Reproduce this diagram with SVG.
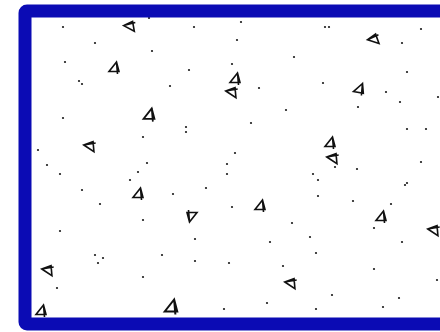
<svg xmlns="http://www.w3.org/2000/svg" xmlns:xlink="http://www.w3.org/1999/xlink" width="440" height="332" viewBox="0 0 440 332">
<style>
.d{fill:#1a1a1a}
.t{fill:none;stroke:#111;stroke-width:1.6;stroke-linejoin:miter}
</style>
<defs>
<path id="tri" class="t" d="M2.5,-6 L-5,3.5 L5,3.5 Z M2.5,-6 L3.5,6"/>
</defs>
<rect x="0" y="0" width="440" height="332" fill="#ffffff"/>
<g id="hatch">
<use xlink:href="#tri" transform="translate(130,27) rotate(-100)"/>
<use xlink:href="#tri" transform="translate(114,68)"/>
<use xlink:href="#tri" transform="translate(149,115) scale(1.1)"/>
<use xlink:href="#tri" transform="translate(90,147) rotate(-95)"/>
<use xlink:href="#tri" transform="translate(235,79)"/>
<use xlink:href="#tri" transform="translate(232,93) rotate(-95)"/>
<use xlink:href="#tri" transform="translate(374,40) rotate(-110)"/>
<use xlink:href="#tri" transform="translate(359,89) rotate(10)"/>
<use xlink:href="#tri" transform="translate(330,143)"/>
<use xlink:href="#tri" transform="translate(333,159) rotate(-95)"/>
<use xlink:href="#tri" transform="translate(138,194)"/>
<use xlink:href="#tri" transform="translate(192,216) rotate(180)"/>
<use xlink:href="#tri" transform="translate(260,206)"/>
<use xlink:href="#tri" transform="translate(381,217)"/>
<use xlink:href="#tri" transform="translate(434,231) rotate(-95)"/>
<use xlink:href="#tri" transform="translate(48,271) rotate(-95)"/>
<use xlink:href="#tri" transform="translate(291,284) rotate(-95)"/>
<use xlink:href="#tri" transform="translate(41,311)"/>
<use xlink:href="#tri" transform="translate(171,307) scale(1.25)"/>
<g class="d">
<circle cx="63" cy="27" r="1.1"/><circle cx="95" cy="43" r="1.1"/><circle cx="152" cy="51" r="1.1"/>
<circle cx="65" cy="62" r="1.1"/><circle cx="79" cy="81" r="1.1"/><circle cx="82" cy="84" r="1.1"/>
<circle cx="170" cy="86" r="1.1"/><circle cx="189" cy="70" r="1.1"/><circle cx="194" cy="27" r="1.1"/>
<circle cx="63" cy="118" r="1.1"/><circle cx="143" cy="137" r="1.1"/><circle cx="186" cy="127" r="1.1"/>
<circle cx="186" cy="132" r="1.1"/><circle cx="38" cy="150" r="1.1"/><circle cx="147" cy="163" r="1.1"/>
<circle cx="47" cy="165" r="1.1"/><circle cx="149" cy="18" r="1.1"/>
<circle cx="241" cy="22" r="1.1"/><circle cx="237" cy="40" r="1.1"/><circle cx="325" cy="27" r="1.1"/>
<circle cx="329" cy="27" r="1.1"/><circle cx="421" cy="29" r="1.1"/><circle cx="402" cy="43" r="1.1"/>
<circle cx="294" cy="57" r="1.1"/><circle cx="232" cy="64" r="1.1"/><circle cx="407" cy="72" r="1.1"/>
<circle cx="259" cy="88" r="1.1"/><circle cx="323" cy="83" r="1.1"/><circle cx="386" cy="92" r="1.1"/>
<circle cx="400" cy="102" r="1.1"/><circle cx="438" cy="97" r="1.1"/><circle cx="358" cy="107" r="1.1"/>
<circle cx="286" cy="110" r="1.1"/><circle cx="251" cy="123" r="1.1"/><circle cx="407" cy="129" r="1.1"/>
<circle cx="426" cy="129" r="1.1"/><circle cx="235" cy="153" r="1.1"/><circle cx="227" cy="164" r="1.1"/>
<circle cx="421" cy="162" r="1.1"/>
<circle cx="60" cy="174" r="1.1"/><circle cx="138" cy="172" r="1.1"/><circle cx="130" cy="180" r="1.1"/>
<circle cx="82" cy="190" r="1.1"/><circle cx="173" cy="194" r="1.1"/><circle cx="206" cy="188" r="1.1"/>
<circle cx="100" cy="204" r="1.1"/><circle cx="143" cy="220" r="1.1"/><circle cx="60" cy="231" r="1.1"/>
<circle cx="195" cy="239" r="1.1"/><circle cx="95" cy="255" r="1.1"/><circle cx="103" cy="258" r="1.1"/>
<circle cx="98" cy="263" r="1.1"/><circle cx="162" cy="255" r="1.1"/><circle cx="195" cy="261" r="1.1"/>
<circle cx="143" cy="277" r="1.1"/><circle cx="57" cy="288" r="1.1"/>
<circle cx="227" cy="174" r="1.1"/><circle cx="313" cy="174" r="1.1"/><circle cx="318" cy="180" r="1.1"/>
<circle cx="335" cy="167" r="1.1"/><circle cx="357" cy="169" r="1.1"/><circle cx="405" cy="185" r="1.1"/>
<circle cx="407" cy="183" r="1.1"/><circle cx="318" cy="196" r="1.1"/><circle cx="353" cy="201" r="1.1"/>
<circle cx="391" cy="204" r="1.1"/><circle cx="232" cy="207" r="1.1"/><circle cx="292" cy="223" r="1.1"/>
<circle cx="310" cy="237" r="1.1"/><circle cx="270" cy="242" r="1.1"/><circle cx="374" cy="228" r="1.1"/>
<circle cx="402" cy="242" r="1.1"/><circle cx="316" cy="253" r="1.1"/><circle cx="229" cy="263" r="1.1"/>
<circle cx="283" cy="266" r="1.1"/><circle cx="374" cy="269" r="1.1"/><circle cx="437" cy="280" r="1.1"/>
<circle cx="332" cy="295" r="1.1"/><circle cx="399" cy="298" r="1.1"/><circle cx="267" cy="303" r="1.1"/>
<circle cx="383" cy="307" r="1.1"/><circle cx="224" cy="309" r="1.1"/><circle cx="316" cy="309" r="1.1"/>
</g>
</g>
<rect id="frame" x="25" y="11" width="440" height="313" rx="2" fill="none" stroke="#0b0bb4" stroke-width="13"/>
</svg>
